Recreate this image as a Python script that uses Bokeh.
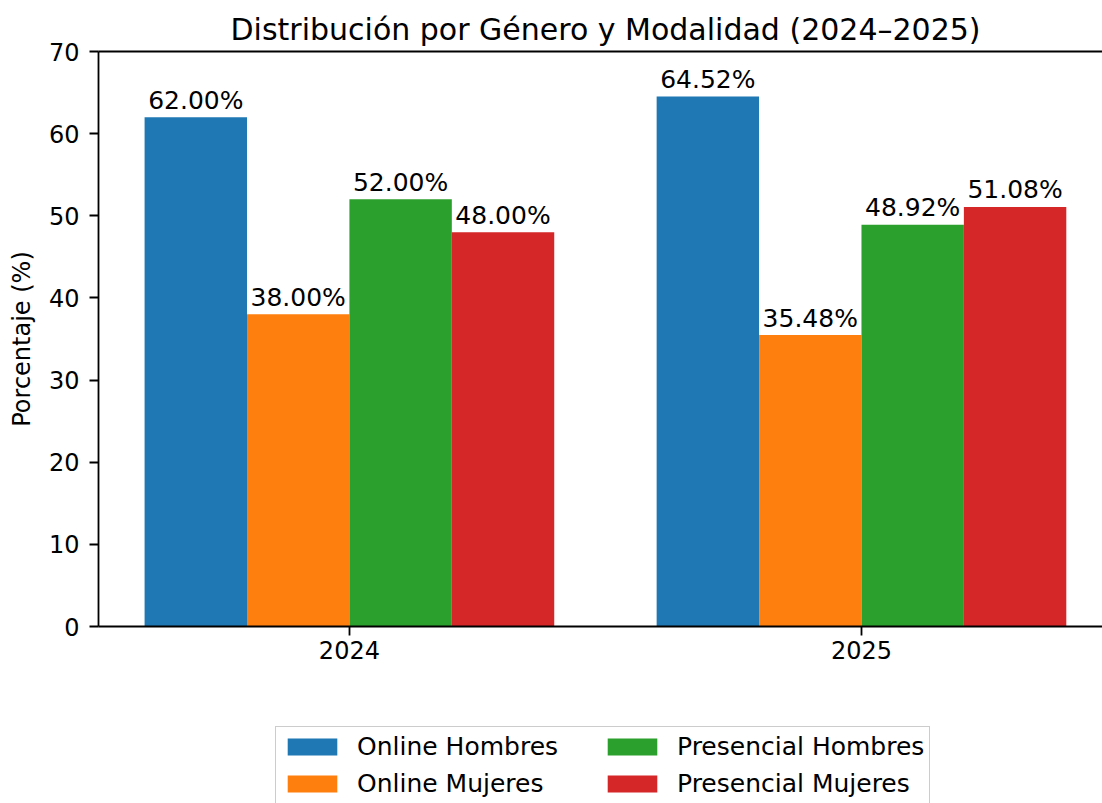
from bokeh.plotting import figure
from bokeh.layouts import column
from bokeh.models import (ColumnDataSource, Range1d, FixedTicker, LinearAxis,
                          Legend, LegendItem)
from bokeh.transform import dodge
from bokeh.core.properties import value
from bokeh.embed import file_html
from bokeh.resources import INLINE

years = ["2024", "2025"]
series_names = ["Online Hombres", "Online Mujeres", "Presencial Hombres", "Presencial Mujeres"]
online_hombres = [62.00, 64.52]
online_mujeres = [38.00, 35.48]
presencial_hombres = [52.00, 48.92]
presencial_mujeres = [48.00, 51.08]
colors = ["#1f77b4", "#ff7f0e", "#2ca02c", "#d62728"]
y_ticks = [0, 10, 20, 30, 40, 50, 60, 70]

series_values = [online_hombres, online_mujeres, presencial_hombres, presencial_mujeres]
offsets = [-0.3, -0.1, 0.1, 0.3]
bar_width = 0.2
FONT = "DejaVu Sans"
FS = "24px"
FS_LBL = "25px"

p = figure(width=1102, height=716, output_backend="svg", toolbar_location=None,
           x_range=Range1d(-0.49, 1.4707), y_range=Range1d(0, 70),
           min_border_left=98, min_border_right=0, min_border_top=51,
           min_border_bottom=90)
p.outline_line_color = None
p.xgrid.grid_line_color = None
p.ygrid.grid_line_color = None
p.background_fill_color = "white"
p.border_fill_color = "white"

p.title.text = "Distribución por Género y Modalidad (2024–2025)"
p.title.align = "left"
p.title.text_font = FONT
p.title.text_font_size = "30px"
p.title.text_font_style = "normal"
p.title.text_color = "black"
p.title.offset = 132

x_idx = list(range(len(years)))
sources = []
for name, vals, col, off in zip(series_names, series_values, colors, offsets):
    src = ColumnDataSource(dict(x=x_idx, y=vals, label=[f"{v:.2f}%" for v in vals]))
    sources.append(src)
    p.vbar(x=dodge("x", off), top="y", width=bar_width, source=src,
           fill_color=col, line_color=None)
    p.text(x=dodge("x", off), y="y", text="label", source=src,
           text_font=value(FONT), text_font_size=FS_LBL, text_color="black",
           text_align="center", text_baseline="alphabetic", y_offset=-17)

# axes styling
for ax in (p.xaxis[0], p.yaxis[0]):
    ax.axis_line_width = 1.8
    ax.axis_line_color = "black"
    ax.major_tick_line_width = 1.8
    ax.major_tick_line_color = "black"
    ax.major_tick_in = 0
    ax.major_tick_out = 9
    ax.minor_tick_line_color = None
    ax.major_label_text_font = FONT
    ax.major_label_text_font_size = FS
    ax.major_label_text_color = "black"
    ax.major_label_standoff = 10

p.xaxis[0].ticker = FixedTicker(ticks=x_idx)
p.xaxis[0].major_label_overrides = {i: y for i, y in enumerate(years)}
p.xaxis[0].major_label_standoff = 5
p.yaxis[0].ticker = FixedTicker(ticks=y_ticks)
p.yaxis[0].axis_label = "Porcentaje (%)"
p.yaxis[0].axis_label_text_font = FONT
p.yaxis[0].axis_label_text_font_size = FS
p.yaxis[0].axis_label_text_font_style = "normal"
p.yaxis[0].axis_label_text_color = "black"
p.yaxis[0].axis_label_standoff = 10

# top spine
top = LinearAxis(ticker=FixedTicker(ticks=[]), axis_line_width=1.8, axis_line_color="black",
                 major_tick_line_color=None, minor_tick_line_color=None,
                 major_label_text_font_size="0px")
p.add_layout(top, "above")

# legend strip below the chart
lg = figure(width=1102, height=87, output_backend="svg", toolbar_location=None,
            x_range=Range1d(-0.49, 1.4707), y_range=Range1d(0, 70),
            x_axis_type=None, y_axis_type=None,
            min_border_left=0, min_border_right=0, min_border_top=0, min_border_bottom=0)
lg.outline_line_color = None
lg.grid.visible = False
items = []
for name, src, col, off in zip(series_names, sources, colors, offsets):
    r = lg.vbar(x=dodge("x", off), top="y", width=bar_width, source=src,
                fill_color=col, line_color=None, visible=False)
    items.append(LegendItem(label=name, renderers=[r]))

legend = Legend(items=items, ncols=2, orientation="vertical", location=(177, -1),
                label_text_font=FONT, label_text_font_size=FS_LBL, label_text_color="black",
                glyph_width=62, glyph_height=21, label_standoff=14, spacing=8,
                label_width=236,
                padding=5, margin=0, border_line_color="#cccccc", border_line_width=1.5,
                border_line_alpha=1.0, background_fill_alpha=0.8,
                inactive_fill_alpha=0.0)
lg.add_layout(legend)

layout = column(p, lg, spacing=0)
open("out.html", "w").write(file_html(layout, INLINE))
